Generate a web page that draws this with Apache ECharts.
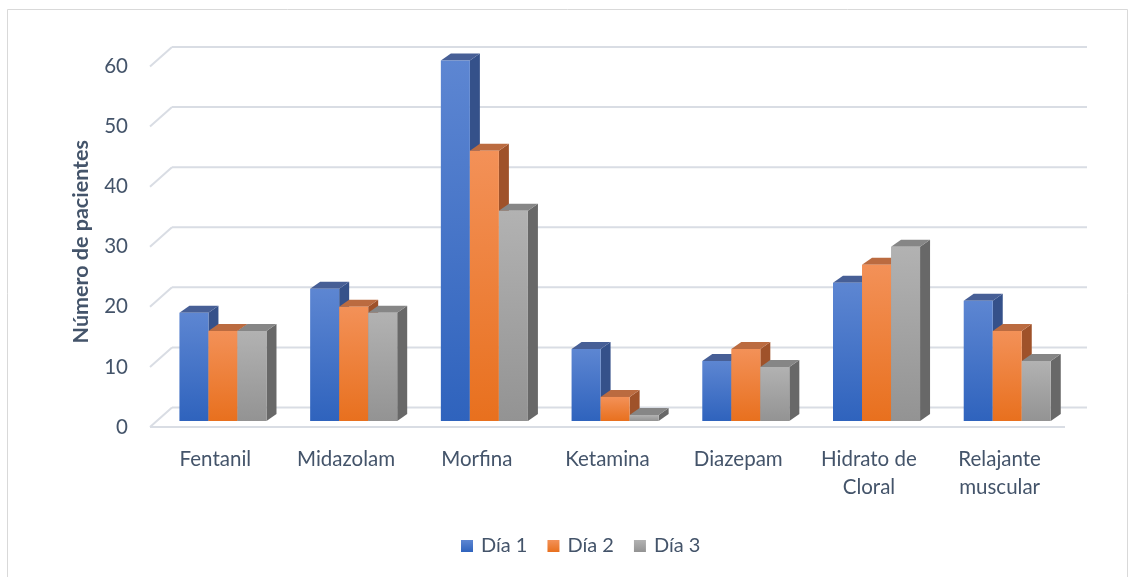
<!DOCTYPE html>
<html>
<head>
<meta charset="utf-8">
<script src="https://cdn.jsdelivr.net/npm/echarts@6/dist/echarts.min.js"></script>
<style>
  html, body { margin: 0; padding: 0; background: #fff; }
</style>
</head>
<body>
<div id="myChart" style="width: 1135px; height: 577px"></div>
<script>
// datos
const categories = ['Fentanil', 'Midazolam', 'Morfina', 'Ketamina', 'Diazepam', 'Hidrato de\nCloral', 'Relajante\nmuscular'];
const dia1 = [18, 22, 60, 12, 10, 23, 20];
const dia2 = [15, 19, 45, 4, 12, 26, 15];
const dia3 = [15, 18, 35, 1, 9, 29, 10];
const yTicks = [0, 10, 20, 30, 40, 50, 60];

const textColor = '#44546a';
const font = 'Lato';

// colores: frente (arriba/abajo), lado, tapa
const palettes = [
  { top: '#5d86d2', bottom: '#2f63bd', side: '#35518a', cap: '#475f96' },
  { top: '#f39158', bottom: '#e8701e', side: '#9f522a', cap: '#bb6b40' },
  { top: '#b2b2b2', bottom: '#939393', side: '#686868', cap: '#868686' }
];

function grad(p) {
  return new echarts.graphic.LinearGradient(0, 0, 0, 1, [
    { offset: 0, color: p.top },
    { offset: 1, color: p.bottom }
  ]);
}

// desplazamiento de la pared del fondo / profundidad
const wallDX = 22, wallDY = -19.5;
const barDX = 7.6, barDY = -6;
const depthX = 10, depthY = -7;

function renderGrid(params, api) {
  const v = api.value(1);
  const band = api.size([1, 0])[0];
  const p = api.coord([0, v]);
  const left = p[0] - band / 2;
  const right = api.coord([categories.length - 1, v])[0] + band / 2;
  const y = p[1];
  const style = { stroke: '#d9dde4', lineWidth: 2 };
  const children = [
    { type: 'line', shape: { x1: left, y1: y, x2: left + wallDX, y2: y + wallDY }, style: style },
    { type: 'line', shape: { x1: left + wallDX, y1: y + wallDY, x2: right + wallDX, y2: y + wallDY }, style: style }
  ];
  if (v === 0) {
    children.push({ type: 'line', shape: { x1: left, y1: y, x2: right, y2: y }, style: style });
  }
  return { type: 'group', children: children };
}

function barRenderer(idx) {
  const pal = palettes[idx];
  return function (params, api) {
    const cat = api.value(0);
    const val = api.value(1);
    const base = api.coord([cat, 0]);
    const top = api.coord([cat, val]);
    const band = api.size([1, 0])[0];
    const bw = band * 0.222;
    const x0 = base[0] - 1.5 * bw + idx * bw + barDX;
    const yb = base[1] + barDY;
    const yt = top[1] + barDY;
    return {
      type: 'group',
      children: [
        {
          type: 'polygon',
          shape: { points: [[x0 + bw, yt], [x0 + bw + depthX, yt + depthY], [x0 + bw + depthX, yb + depthY], [x0 + bw, yb]] },
          style: { fill: pal.side }
        },
        {
          type: 'polygon',
          shape: { points: [[x0, yt], [x0 + depthX, yt + depthY], [x0 + bw + depthX, yt + depthY], [x0 + bw, yt]] },
          style: { fill: pal.cap }
        },
        {
          type: 'rect',
          shape: { x: x0, y: yt, width: bw, height: yb - yt },
          style: { fill: grad(pal) }
        }
      ]
    };
  };
}

const seriesData = [dia1, dia2, dia3];
const names = ['Día 1', 'Día 2', 'Día 3'];

let myChart = echarts.init(document.getElementById('myChart'));
myChart.setOption({
  backgroundColor: '#fff',
  animation: false,
  graphic: [{
    type: 'rect',
    shape: { x: 7.5, y: 9.5, width: 1120, height: 580 },
    style: { fill: 'none', stroke: '#d9d9d9', lineWidth: 1 },
    z: -10
  }],
  legend: {
    data: names,
    bottom: 16,
    left: 456,
    icon: 'rect',
    itemWidth: 12,
    itemHeight: 12,
    itemGap: 20,
    textStyle: { color: textColor, fontSize: 20, fontFamily: font, padding: [0, 0, 0, 3] }
  },
  grid: { left: 150, right: 70, top: 66.5, bottom: 150 },
  xAxis: {
    type: 'category',
    data: categories,
    axisLine: { show: false },
    axisTick: { show: false },
    splitLine: { show: false },
    axisLabel: { interval: 0, color: textColor, fontSize: 20.5, fontFamily: font, margin: 18, lineHeight: 28 }
  },
  yAxis: {
    type: 'value',
    min: 0,
    max: 60,
    interval: 10,
    name: 'Número de pacientes',
    nameLocation: 'middle',
    nameRotate: 90,
    nameGap: 58,
    nameTextStyle: { color: textColor, fontSize: 21.5, fontWeight: 'bold', fontFamily: font, padding: [0, 0, 0, 10] },
    axisLine: { show: false },
    axisTick: { show: false },
    splitLine: { show: false },
    axisLabel: { color: textColor, fontSize: 20.5, fontFamily: font, margin: 22 }
  },
  series: [
    {
      type: 'custom',
      name: 'grid',
      silent: true,
      clip: false,
      z: 1,
      renderItem: renderGrid,
      data: yTicks.map(v => [0, v])
    }
  ].concat(seriesData.map((arr, i) => ({
    type: 'custom',
    name: names[i],
    clip: false,
    z: 2,
    itemStyle: { color: grad(palettes[i]) },
    renderItem: barRenderer(i),
    data: arr.map((v, j) => [j, v])
  })))
});
</script>
</body>
</html>
